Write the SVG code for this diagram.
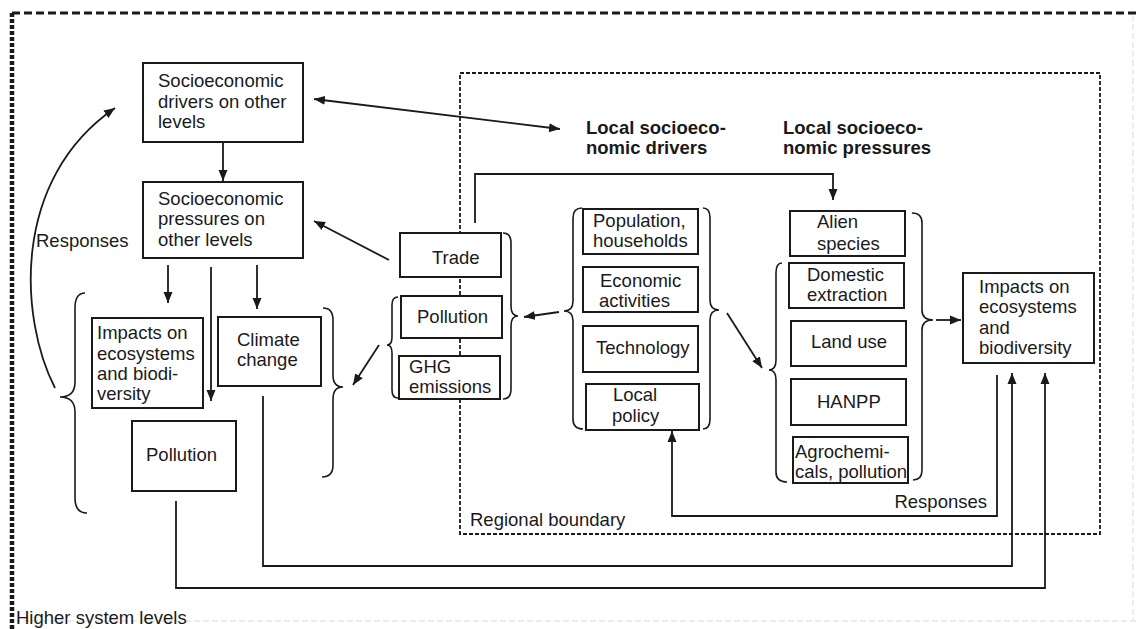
<svg xmlns="http://www.w3.org/2000/svg" width="1136" height="629" viewBox="0 0 1136 629">
<style>
text{font-family:"Liberation Sans",Arial,sans-serif;font-size:18.5px;fill:#1a1a1a}
.b{font-weight:bold}
.box{fill:#fff;stroke:#1a1a1a;stroke-width:2}
.ln{fill:none;stroke:#1a1a1a;stroke-width:1.8}
.br{fill:none;stroke:#1a1a1a;stroke-width:1.6}
</style>
<defs>
<marker id="ah" markerUnits="userSpaceOnUse" markerWidth="12" markerHeight="10" refX="11" refY="5" orient="auto-start-reverse">
<path d="M0,0.5 L11,5 L0,9.5 z" fill="#1a1a1a"/>
</marker>
</defs>
<rect width="1136" height="629" fill="#fff"/>
<g id="borders">
<line x1="12" y1="13" x2="1136" y2="13" stroke="#1a1a1a" stroke-width="3" stroke-dasharray="8 4"/>
<line x1="12" y1="13" x2="12" y2="629" stroke="#1a1a1a" stroke-width="4.5" stroke-dasharray="4 2"/>
<line x1="14" y1="621" x2="1136" y2="621" stroke="#ececec" stroke-width="2" stroke-dasharray="6 3"/>
<line x1="1133" y1="15" x2="1133" y2="621" stroke="#ececec" stroke-width="2" stroke-dasharray="6 3"/>
<rect x="460" y="73" width="640" height="461" fill="none" stroke="#1a1a1a" stroke-width="1.8" stroke-dasharray="4 2"/>
<text x="16" y="624">Higher system levels</text>
<text x="470" y="526">Regional boundary</text>
</g>
<g id="braces">
<path class="br" d="M582,208 Q573,208 573,218 L573,301 Q573,311 564,311 Q573,311 573,321 L573,419 Q573,429 583,429"/>
<path class="br" d="M703,208 Q710,208 710,218 L710,300 Q710,310 719,310 Q710,310 710,320 L710,419 Q710,429 703,429"/>
<path class="br" d="M912,213 Q922,213 922,223 L922,310 Q922,320 933,320 Q922,320 922,330 L922,470 Q922,480 913,480"/>
<path class="br" d="M782,263 Q776,263 776,273 L776,360 Q776,370 769,370 Q776,370 776,380 L776,472 Q776,482 787,482"/>
<path class="br" d="M503,233 Q511,233 511,243 L511,306 Q511,316 518,316 Q511,316 511,326 L511,389 Q511,399 503,399"/>
<path class="br" d="M398,297 Q392,297 392,305 L392,337 Q392,345 387,345 Q392,345 392,353 L392,390 Q392,398 398,398"/>
<path class="br" d="M85,293 Q75,293 75,308 L75,382 Q75,397 60,397 Q75,397 75,412 L75,498 Q75,513 87,513"/>
<path class="br" d="M323,308 Q333,308 333,320 L333,375 Q333,387 343,387 Q333,387 333,399 L333,465 Q333,477 322,477"/>
</g>
<g id="connectors">
<line class="ln" x1="223" y1="142" x2="223" y2="181" marker-end="url(#ah)"/>
<line class="ln" x1="314" y1="99" x2="560" y2="129" marker-start="url(#ah)" marker-end="url(#ah)"/>
<line class="ln" x1="389" y1="260" x2="314" y2="221" marker-end="url(#ah)"/>
<path class="ln" d="M475,223 L475,174 L833,174 L833,200" marker-end="url(#ah)"/>
<line class="ln" x1="168" y1="265" x2="168" y2="303" marker-end="url(#ah)"/>
<line class="ln" x1="211" y1="267" x2="211" y2="401" marker-end="url(#ah)"/>
<line class="ln" x1="257" y1="265" x2="257" y2="309" marker-end="url(#ah)"/>
<line class="ln" x1="559" y1="312" x2="524" y2="317" marker-end="url(#ah)"/>
<line class="ln" x1="727" y1="313" x2="762" y2="368" marker-end="url(#ah)"/>
<line class="ln" x1="936" y1="320" x2="961" y2="320" marker-end="url(#ah)"/>
<line class="ln" x1="379" y1="345" x2="353" y2="385" marker-end="url(#ah)"/>
<path class="ln" d="M55,388 C20,320 10,180 115,108" marker-end="url(#ah)"/>
<path class="ln" d="M997,375 L997,516 L672,516 L672,431" marker-end="url(#ah)"/>
<path class="ln" d="M263,396 L263,566 L1012,566 L1012,373" marker-end="url(#ah)"/>
<path class="ln" d="M176,501 L176,588 L1045,588 L1045,373" marker-end="url(#ah)"/>
<text x="36" y="247">Responses</text>
<text x="987" y="508" text-anchor="end">Responses</text>
</g>
<g id="n-drivers-other">
<rect class="box" x="143" y="63" width="160" height="79"/>
<text x="158" y="87">Socioeconomic</text>
<text x="158" y="108">drivers on other</text>
<text x="158" y="128">levels</text>
</g>
<g id="n-pressures-other">
<rect class="box" x="143" y="182" width="160" height="76"/>
<text x="158" y="205">Socioeconomic</text>
<text x="158" y="225">pressures on</text>
<text x="158" y="246">other levels</text>
</g>
<g id="n-impacts-other">
<rect class="box" x="92" y="318" width="111" height="90"/>
<text x="97" y="339">Impacts on</text>
<text x="97" y="360">ecosystems</text>
<text x="97" y="380">and biodi-</text>
<text x="97" y="400">versity</text>
</g>
<g id="n-climate">
<rect class="box" x="218" y="317" width="103" height="69"/>
<text x="237" y="346">Climate</text>
<text x="237" y="366">change</text>
</g>
<g id="n-pollution-other">
<rect class="box" x="132" y="421" width="104" height="70"/>
<text x="146" y="461">Pollution</text>
</g>
<g id="n-trade">
<rect class="box" x="400" y="233" width="101" height="44"/>
<text x="432" y="264">Trade</text>
</g>
<g id="n-pollution">
<rect class="box" x="401" y="296" width="101" height="42"/>
<text x="417" y="323">Pollution</text>
</g>
<g id="n-ghg">
<rect class="box" x="399" y="356" width="101" height="43"/>
<text x="409" y="373">GHG</text>
<text x="409" y="393">emissions</text>
</g>
<g id="n-local-drivers-title">
<text class="b" x="586" y="134">Local socioeco-</text>
<text class="b" x="586" y="154">nomic drivers</text>
</g>
<g id="n-local-pressures-title">
<text class="b" x="783" y="134">Local socioeco-</text>
<text class="b" x="783" y="154">nomic pressures</text>
</g>
<g id="n-population">
<rect class="box" x="583" y="209" width="115" height="45"/>
<text x="593" y="227">Population,</text>
<text x="593" y="247">households</text>
</g>
<g id="n-economic">
<rect class="box" x="583" y="267" width="115" height="45"/>
<text x="600" y="287">Economic</text>
<text x="599" y="307">activities</text>
</g>
<g id="n-technology">
<rect class="box" x="583" y="326" width="115" height="46"/>
<text x="596" y="354">Technology</text>
</g>
<g id="n-policy">
<rect class="box" x="586" y="384" width="113" height="46"/>
<text x="613" y="401">Local</text>
<text x="612" y="422">policy</text>
</g>
<g id="n-alien">
<rect class="box" x="790" y="211" width="115" height="45"/>
<text x="817" y="228">Alien</text>
<text x="817" y="250">species</text>
</g>
<g id="n-domestic">
<rect class="box" x="789" y="263" width="115" height="45"/>
<text x="807" y="281">Domestic</text>
<text x="807" y="301">extraction</text>
</g>
<g id="n-landuse">
<rect class="box" x="791" y="321" width="115" height="45"/>
<text x="811" y="348">Land use</text>
</g>
<g id="n-hanpp">
<rect class="box" x="791" y="379" width="115" height="46"/>
<text x="817" y="408">HANPP</text>
</g>
<g id="n-agro">
<rect class="box" x="793" y="437" width="115" height="46"/>
<text x="795" y="458">Agrochemi-</text>
<text x="795" y="478">cals, pollution</text>
</g>
<g id="n-impacts-local">
<rect class="box" x="963" y="273" width="131" height="90"/>
<text x="979" y="293">Impacts on</text>
<text x="979" y="313">ecosystems</text>
<text x="979" y="334">and</text>
<text x="979" y="354">biodiversity</text>
</g>
</svg>
